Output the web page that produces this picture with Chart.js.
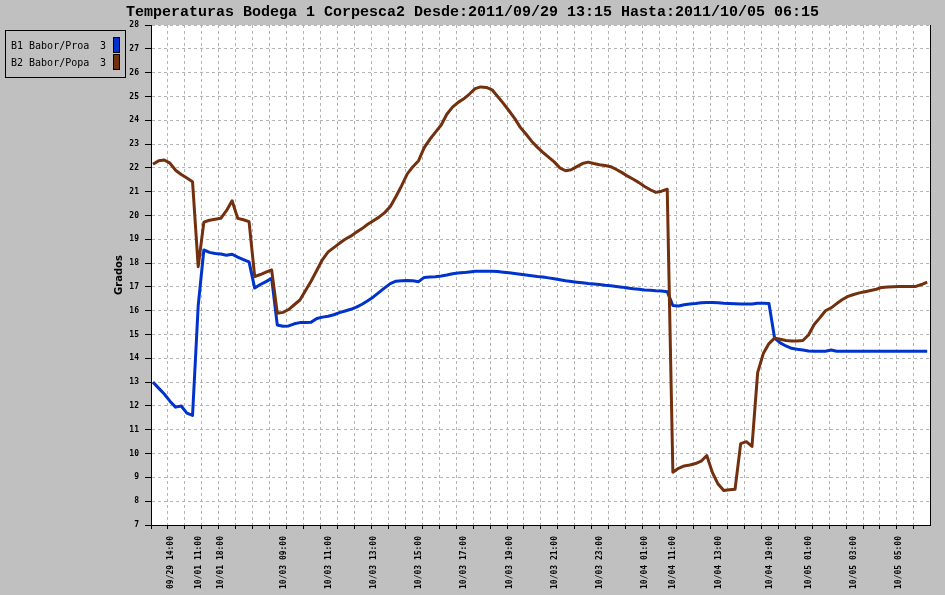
<!DOCTYPE html>
<html><head><meta charset="utf-8">
<script src="https://cdn.jsdelivr.net/npm/chart.js@4.4.1/dist/chart.umd.min.js"></script>
<style>
html,body{margin:0;padding:0;background:#c0c0c0;overflow:hidden}
#wrap{position:relative;width:945px;height:595px;background:#c0c0c0}
#c{position:absolute;left:0;top:0}
#legend{position:absolute;left:5px;top:30px;width:121px;height:48px;box-sizing:border-box;border:1px solid #000}
.lg-text{position:absolute;font:10px "DejaVu Sans Mono",monospace;color:#000;line-height:12px;white-space:pre}
.lg-box{position:absolute;width:7px;height:16px;box-sizing:border-box;border:1px solid #000}
</style></head><body>
<div id="wrap"><canvas id="c" width="945" height="595"></canvas><div id="legend"></div></div>
<script>
const titleText = "Temperaturas Bodega 1 Corpesca2 Desde:2011/09/29 13:15 Hasta:2011/10/05 06:15";
const yTitle = "Grados";
const seriesNames = ["B1 Babor/Proa", "B2 Babor/Popa"];
const seriesCounts = ["3", "3"];
const seriesColors = ["#0033cc", "#73300f"];

// B1 Babor/Proa (blue), one value per sample
const b1Values = [
 13.0,12.75,12.5,12.2,11.95,12.0,11.7,11.6,16.2,18.55,
 18.45,18.4,18.38,18.33,18.37,18.25,18.15,18.05,16.95,17.1,
 17.22,17.36,15.4,15.35,15.36,15.45,15.5,15.5,15.52,15.67,
 15.73,15.77,15.83,15.92,15.99,16.06,16.15,16.27,16.42,16.58,
 16.77,16.96,17.14,17.24,17.26,17.27,17.26,17.22,17.4,17.42,
 17.43,17.46,17.5,17.55,17.58,17.6,17.63,17.66,17.66,17.66,
 17.66,17.65,17.62,17.59,17.56,17.53,17.5,17.47,17.44,17.42,
 17.38,17.34,17.3,17.26,17.23,17.2,17.17,17.14,17.12,17.1,
 17.07,17.05,17.02,16.99,16.95,16.92,16.9,16.87,16.86,16.84,
 16.83,16.8,16.22,16.2,16.25,16.28,16.3,16.33,16.35,16.34,
 16.33,16.31,16.3,16.29,16.28,16.28,16.28,16.31,16.31,16.3,
 14.85,14.65,14.52,14.42,14.38,14.35,14.31,14.3,14.3,14.3,
 14.35,14.3,14.3,14.3,14.3,14.3,14.3,14.3,14.3,14.3,
 14.3,14.3,14.3,14.3,14.3,14.3,14.3,14.3
];
// B2 Babor/Popa (brown)
const b2Values = [
 22.15,22.3,22.33,22.2,21.9,21.72,21.57,21.42,17.85,19.72,
 19.8,19.84,19.88,20.2,20.62,19.88,19.82,19.74,17.43,17.52,
 17.62,17.71,15.89,15.93,16.05,16.25,16.45,16.85,17.25,17.7,
 18.15,18.47,18.65,18.83,19.0,19.13,19.3,19.45,19.63,19.78,
 19.93,20.12,20.38,20.8,21.25,21.75,22.05,22.3,22.85,23.2,
 23.5,23.8,24.25,24.55,24.75,24.9,25.1,25.33,25.4,25.38,
 25.28,25.0,24.71,24.4,24.08,23.7,23.42,23.12,22.87,22.65,
 22.45,22.25,22.0,21.88,21.92,22.05,22.18,22.24,22.18,22.13,
 22.1,22.05,21.93,21.8,21.65,21.52,21.38,21.22,21.08,20.97,
 21.02,21.1,9.22,9.38,9.48,9.52,9.58,9.68,9.92,9.2,
 8.72,8.45,8.48,8.5,10.42,10.5,10.3,13.4,14.2,14.62,
 14.85,14.8,14.75,14.73,14.73,14.75,14.98,15.42,15.7,16.0,
 16.12,16.3,16.47,16.6,16.68,16.75,16.8,16.85,16.9,16.98,
 17.0,17.01,17.02,17.02,17.02,17.02,17.1,17.2
];
// sample index of each labelled time, and its label
const tickIndex = [3,8,12,23,31,39,47,55,63,71,79,87,92,100,109,116,124,132];
const tickLabels = ["09/29 14:00","10/01 11:00","10/01 18:00","10/03 09:00","10/03 11:00",
 "10/03 13:00","10/03 15:00","10/03 17:00","10/03 19:00","10/03 21:00","10/03 23:00",
 "10/04 01:00","10/04 11:00","10/04 13:00","10/04 19:00","10/05 01:00","10/05 03:00","10/05 05:00"];
const yMin = 7, yMax = 28;
const xMin = -0.35, xMax = 137.5;
const gridEvery = 3;

const toPoints = vals => vals.map((v, i) => ({x: i, y: v}));

const plotBg = {
  id: 'plotBg',
  beforeDraw(chart) {
    const {ctx, chartArea: a} = chart;
    ctx.save(); ctx.fillStyle = '#ffffff';
    ctx.fillRect(a.left, a.top, a.right - a.left, a.bottom - a.top);
    ctx.restore();
  }
};

const tickFont = {family: 'DejaVu Sans Mono', size: 8, weight: 'bold'};
const gridColor = '#b4b4b4';

const chart = new Chart(document.getElementById('c'), {
  type: 'line',
  data: {
    datasets: [
      {label: seriesNames[0], data: toPoints(b1Values), borderColor: seriesColors[0], backgroundColor: seriesColors[0],
       borderWidth: 3, pointRadius: 0, tension: 0, fill: false, order: 1, xAxisID: 'x', yAxisID: 'y', borderJoinStyle: 'round'},
      {label: seriesNames[1], data: toPoints(b2Values), borderColor: seriesColors[1], backgroundColor: seriesColors[1],
       borderWidth: 3, pointRadius: 0, tension: 0, fill: false, order: 0, xAxisID: 'x', yAxisID: 'y', borderJoinStyle: 'round'}
    ]
  },
  options: {
    responsive: false, animation: false, devicePixelRatio: 1, events: [],
    layout: {padding: {left: 0, right: 0, top: 0, bottom: 0}},
    plugins: {
      legend: {display: false}, tooltip: {enabled: false},
      title: {display: true, text: titleText, color: '#000',
        font: {family: 'Liberation Mono', size: 15, weight: 'bold', lineHeight: 1.2},
        padding: {top: 3.5, bottom: 3.5}}
    },
    scales: {
      xg: {
        type: 'linear', position: 'bottom', min: xMin, max: xMax, weight: 0,
        afterBuildTicks(s) { const t = []; for (let v = xMin; v < xMax - 0.01; v += gridEvery) t.push({value: v}); s.ticks = t; },
        afterFit(s) { s.height = 0; },
        ticks: {display: false},
        grid: {color: gridColor, lineWidth: 1, tickColor: '#000', tickLength: 4, tickWidth: 1, tickBorderDash: []},
        border: {display: true, color: '#000', width: 1, dash: [3, 3]}
      },
      x: {
        type: 'linear', position: 'bottom', min: xMin, max: xMax, weight: 1,
        afterBuildTicks(s) { s.ticks = tickIndex.map(v => ({value: v})); },
        afterFit(s) { s.height = 70; },
        grid: {display: false, drawTicks: false},
        border: {display: false},
        ticks: {autoSkip: false, minRotation: 90, maxRotation: 90, padding: 11, labelOffset: 0.5,
          font: tickFont, color: '#000', callback: (v, i) => tickLabels[i]}
      },
      y: {
        type: 'linear', position: 'left', min: yMin, max: yMax,
        afterFit(s) { s.width = 151; },
        ticks: {stepSize: 1, autoSkip: false, padding: 6, color: '#000', font: tickFont},
        grid: {color: gridColor, lineWidth: 1, tickColor: '#000', tickLength: 6, tickWidth: 1, tickBorderDash: []},
        border: {display: true, color: '#000', width: 1, dash: [3, 3]},
        title: {display: true, text: yTitle, color: '#000',
          font: {family: 'DejaVu Sans', size: 10, weight: 'bold'}, padding: {top: 113.5, bottom: 0}}
      },
      yr: {
        type: 'linear', position: 'right', min: yMin, max: yMax,
        afterFit(s) { s.width = 15; },
        ticks: {display: false},
        grid: {display: false, drawTicks: false},
        border: {display: true, color: '#000', width: 1}
      }
    }
  },
  plugins: [plotBg]
});

// legend built from the chart datasets
const lg = document.getElementById('legend');
chart.data.datasets.forEach((ds, k) => {
  const rowTop = 9.3 + k * 17;
  const t = document.createElement('div'); t.className = 'lg-text';
  t.style.left = '5px'; t.style.top = rowTop + 'px'; t.textContent = ds.label; lg.appendChild(t);
  const n = document.createElement('div'); n.className = 'lg-text';
  n.style.left = '94px'; n.style.top = rowTop + 'px'; n.textContent = seriesCounts[k]; lg.appendChild(n);
  const b = document.createElement('div'); b.className = 'lg-box';
  b.style.left = '107px'; b.style.top = (5.7 + k * 17.3) + 'px'; b.style.background = ds.borderColor; lg.appendChild(b);
});
</script>
</body></html>
